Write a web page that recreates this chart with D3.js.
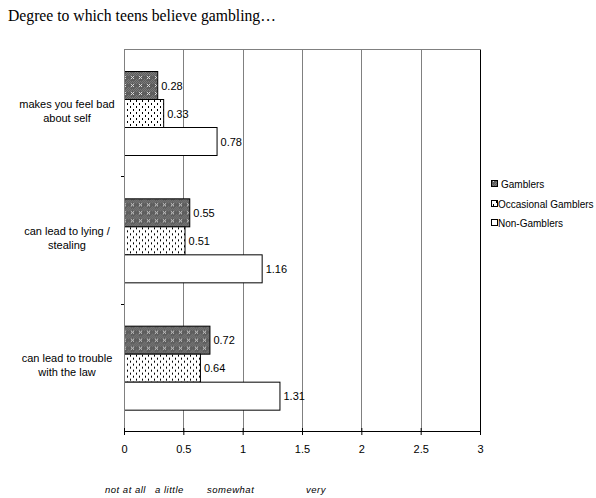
<!DOCTYPE html>
<html>
<head>
<meta charset="utf-8">
<script src="https://cdn.jsdelivr.net/npm/d3@7"></script>
<style>
  html, body { margin: 0; padding: 0; background: #fff; }
  svg { display: block; }
</style>
</head>
<body>
<svg id="chart" width="596" height="498"></svg>
<script>
// Survey items (rows of the chart)
const categories = [
  ["makes you feel bad", "about self"],
  ["can lead to lying /", "stealing"],
  ["can lead to trouble", "with the law"]
];
const series = ["Gamblers", "Occasional Gamblers", "Non-Gamblers"];
// Mean agreement per group, in row order
const gamblers = [0.28, 0.55, 0.72];
const occasional = [0.33, 0.51, 0.64];
const nonGamblers = [0.78, 1.16, 1.31];
const xTicks = [0, 0.5, 1, 1.5, 2, 2.5, 3];
const xTickLabels = ["0", "0.5", "1", "1.5", "2", "2.5", "3"];
const scaleWords = ["not at all", "a little", "somewhat", "very"];

const values = [gamblers, occasional, nonGamblers];
const svg = d3.select("#chart");
const sans = "'Liberation Sans', Arial, sans-serif";

const plot = { left: 124, right: 480, top: 49, bottom: 431 };

const x = d3.scaleLinear().domain([0, 3]).range([plot.left, plot.right]);
const y = d3.scaleBand().domain(d3.range(categories.length)).range([plot.top, plot.bottom]);
const ySeries = d3.scaleBand().domain(d3.range(series.length))
  .range([0, y.bandwidth()]).paddingInner(0).paddingOuter(0.77);

// Fill patterns for the three groups
const defs = svg.append("defs");
const pDark = defs.append("pattern").attr("id", "pat-gamblers")
  .attr("patternUnits", "userSpaceOnUse").attr("width", 8).attr("height", 8);
pDark.append("rect").attr("width", 8).attr("height", 8).attr("fill", "#5e5e5e");
[[3, 3], [5, 3], [4, 4], [3, 5], [5, 5]].forEach(([px, py]) => {
  pDark.append("rect").attr("x", px).attr("y", py).attr("width", 1).attr("height", 1)
    .attr("fill", "#d8d8d8");
});
[[0, 0], [2, 0], [4, 0], [6, 0], [1, 1], [3, 1], [5, 1], [7, 1], [0, 2], [2, 2], [6, 2], [1, 7], [7, 7], [0, 6], [2, 6]]
  .forEach(([px, py]) => {
    pDark.append("rect").attr("x", px).attr("y", py).attr("width", 1).attr("height", 1)
      .attr("fill", "#7a7a7a");
  });
const pDots = defs.append("pattern").attr("id", "pat-occasional")
  .attr("patternUnits", "userSpaceOnUse").attr("width", 6).attr("height", 6);
pDots.append("rect").attr("width", 6).attr("height", 6).attr("fill", "#fff");
pDots.append("rect").attr("x", 1).attr("y", 0).attr("width", 1).attr("height", 2).attr("fill", "#000");
pDots.append("rect").attr("x", 4).attr("y", 3).attr("width", 1).attr("height", 2).attr("fill", "#000");

const fills = ["url(#pat-gamblers)", "url(#pat-occasional)", "#fff"];

// Title
svg.append("text").attr("x", 8).attr("y", 21)
  .attr("font-family", "'Liberation Serif', 'Times New Roman', serif")
  .attr("font-size", 15.7).attr("fill", "#000")
  .text("Degree to which teens believe gambling\u2026");

// Vertical gridlines
svg.append("g").selectAll("line").data(xTicks.slice(1)).join("line")
  .attr("x1", d => x(d) + 0.5).attr("x2", d => x(d) + 0.5)
  .attr("y1", plot.top).attr("y2", plot.bottom)
  .attr("stroke", (d, i, a) => i === a.length - 1 ? "#000" : "#808080")
  .attr("shape-rendering", "crispEdges");

// Top border of the plot area
svg.append("line")
  .attr("x1", plot.left).attr("x2", plot.right + 0.5)
  .attr("y1", plot.top + 0.5).attr("y2", plot.top + 0.5)
  .attr("stroke", "#808080").attr("shape-rendering", "crispEdges");

// Bars
const groups = svg.append("g").selectAll("g").data(categories).join("g")
  .attr("transform", (d, i) => `translate(0,${y(i)})`);
groups.each(function (c, ci) {
  const g = d3.select(this);
  series.forEach((s, si) => {
    const v = values[si][ci];
    const y0 = Math.round(ySeries(si));
    const h = Math.round(ySeries.bandwidth());
    g.append("rect")
      .attr("x", x(0) + 0.5).attr("y", y0 + 0.5)
      .attr("width", x(v) - x(0)).attr("height", h)
      .attr("fill", fills[si]).attr("stroke", "#000").attr("stroke-width", 1);
    g.append("text")
      .attr("x", x(v) + 4).attr("y", y0 + h / 2 + 4.5)
      .attr("font-family", sans).attr("font-size", 11).attr("fill", "#000")
      .text(v.toFixed(2));
  });
});

// Category axis (left)
svg.append("line")
  .attr("x1", plot.left + 0.5).attr("x2", plot.left + 0.5)
  .attr("y1", plot.top).attr("y2", plot.bottom)
  .attr("stroke", "#808080").attr("shape-rendering", "crispEdges");
svg.append("g").selectAll("line").data(d3.range(1, categories.length)).join("line")
  .attr("x1", plot.left - 3).attr("x2", plot.left)
  .attr("y1", d => Math.round(y(d)) + 0.5).attr("y2", d => Math.round(y(d)) + 0.5)
  .attr("stroke", "#000").attr("shape-rendering", "crispEdges");
svg.append("g").selectAll("text").data(categories).join("text")
  .attr("font-family", sans).attr("font-size", 11).attr("fill", "#000")
  .attr("text-anchor", "middle")
  .each(function (lines, i) {
    const cy = y(i) + y.bandwidth() / 2;
    d3.select(this).selectAll("tspan").data(lines).join("tspan")
      .attr("x", 67).attr("y", (d, j) => cy - 5 + j * 14).text(d => d);
  });

// Value axis (bottom)
const xAxis = d3.axisBottom(x).tickValues(xTicks)
  .tickFormat((d, i) => xTickLabels[i]).tickSizeInner(4).tickSizeOuter(0).tickPadding(10);
const ax = svg.append("g").attr("transform", `translate(0,${plot.bottom})`).call(xAxis);
ax.select(".domain").attr("stroke", "#000");
ax.selectAll(".tick line").attr("y1", -3).attr("stroke", "#000");
ax.selectAll(".tick text").attr("font-family", sans).attr("font-size", 11).attr("fill", "#000");

// Rating-scale words under the axis
const wordX = [105, 155, 207, 306];
svg.append("g").selectAll("text").data(scaleWords).join("text")
  .attr("x", (d, i) => wordX[i]).attr("y", 493)
  .attr("font-family", sans).attr("font-style", "italic").attr("font-size", 9.5)
  .attr("letter-spacing", 0.5)
  .attr("fill", "#000").text(d => d);

// Legend
const legend = svg.append("g");
const legendY = [184, 204, 223];
series.forEach((s, i) => {
  legend.append("rect")
    .attr("x", 491.5).attr("y", legendY[i] - 3.5).attr("width", 6).attr("height", 6)
    .attr("fill", fills[i]).attr("stroke", "#000");
  legend.append("text")
    .attr("x", i === 0 ? 501 : 498).attr("y", legendY[i] + 4)
    .attr("font-family", sans).attr("font-size", 10).attr("fill", "#000").text(s);
});
</script>
</body>
</html>
